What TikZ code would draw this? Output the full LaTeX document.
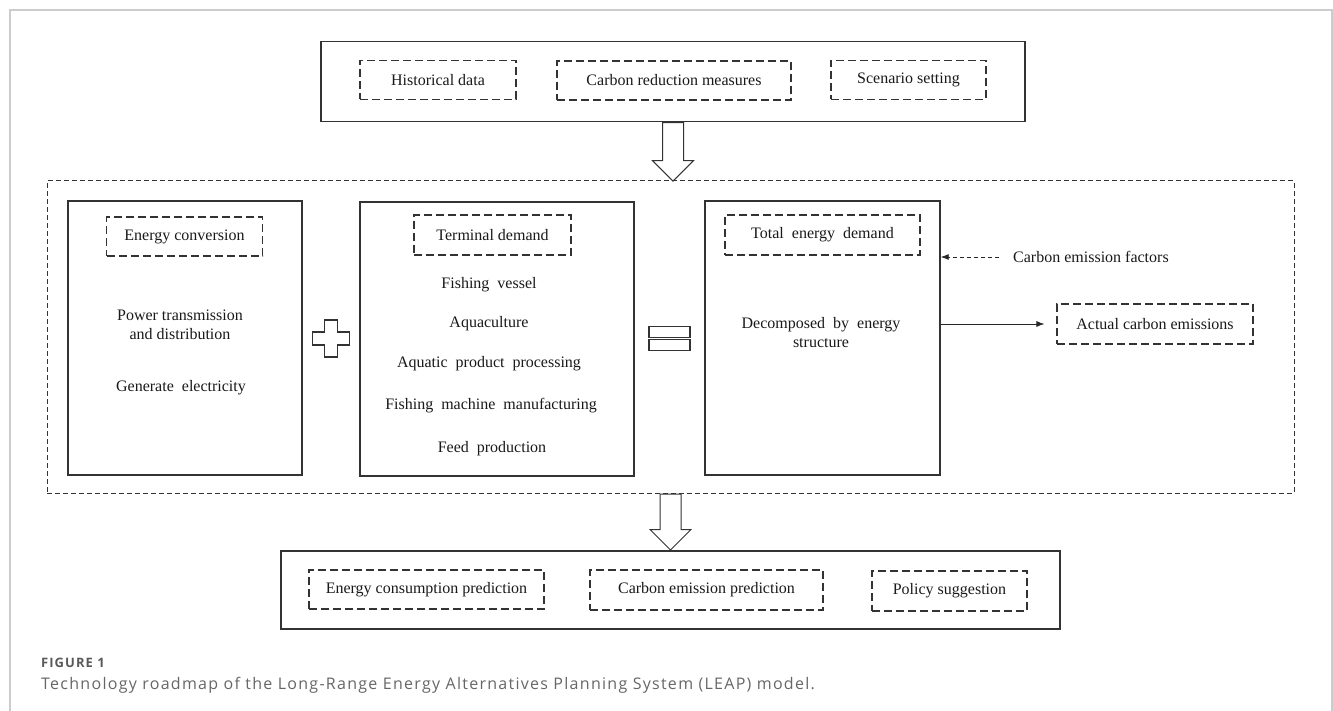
\documentclass[tikz,border=0pt]{standalone}
\usepackage{fontspec}
\setmainfont{Liberation Serif}
\newfontfamily\capfont[LetterSpace=8]{Open Sans}
\usetikzlibrary{arrows.meta,positioning,calc,shapes.arrows}

\begin{document}
\begin{tikzpicture}[x=1pt, y=-1pt,
    every node/.style={font=\fontsize{16}{19}\selectfont, text=black!90},
    box/.style={draw=black!80, line width=1.4pt, inner sep=0pt},
    dbox/.style={draw=black!80, line width=1.2pt, dash pattern=on 8pt off 4pt,
                 inner sep=0pt, minimum height=39pt},
    loopline/.style={draw=black!80, line width=1pt, dash pattern=on 5pt off 3pt},
    item/.style={align=center, inner sep=0pt},
    bigarr/.style={single arrow, draw=black!80, line width=1pt, fill=white,
                   shape border rotate=270, inner sep=10pt,
                   single arrow head extend=10pt, single arrow tip angle=90,
                   minimum height=#1, anchor=tail},
    arr/.style={-{Latex[length=8pt,width=6pt]}, line width=0.8pt, draw=black!85},
    sign/.style={draw=black!80, line width=1.2pt, fill=white},
    captext/.style={text=black!60, anchor=base west, inner sep=0pt},
]
\useasboundingbox (0,0) rectangle (1333,711);
% --- page frame ---------------------------------------------------
\draw[black!20, line width=2pt] (10,711) -- (10,10) -- (1332,10) -- (1332,711);

% --- input block ----------------------------------------------------
\node[box, minimum width=704pt, minimum height=80pt] (inbox) at (673,81.5) {};
\node[dbox, minimum width=156pt] (hist)  at (438,80)   {Historical data};
\node[dbox, minimum width=234pt] (meas)  at (674,80.5) {Carbon reduction measures};
\node[dbox, minimum width=155pt] (scen)  at (908.5,80) {Scenario setting};

% --- LEAP calculation block (dashed) ---------------------------------
\node[loopline, minimum width=1247pt, minimum height=312pt, inner sep=0pt] (leap) at (670.5,337) {};

% energy conversion
\node[box, minimum width=234pt, minimum height=274pt] (conv) at (185,338) {};
\node[dbox, minimum width=156pt] (convt) at (184.5,236.5) {Energy conversion};
\node[item] (ptd)  at (180,325) {Power transmission\\and distribution};
\node[item] (gen)  at (181,388) {Generate\ \ electricity};

% terminal demand
\node[box, minimum width=274pt, minimum height=274pt] (term) at (497,339) {};
\node[dbox, minimum width=157pt, minimum height=40pt] (termt) at (492.5,235) {Terminal demand};
\node[item] (fv)   at (489,285) {Fishing\ \ vessel};
\node[item] (aq)   at (489,324) {Aquaculture};
\node[item] (app)  at (489,364) {Aquatic\ \ product\ \ processing};
\node[item] (fmm)  at (491,406) {Fishing\ \ machine\ \ manufacturing};
\node[item] (feed) at (492,449) {Feed\ \ production};

% total demand
\node[box, minimum width=235pt, minimum height=274pt] (tot) at (822.5,338) {};
\node[dbox, minimum width=195pt, minimum height=40pt] (tott) at (822.5,235) {Total\ \ energy\ \ demand};
\node[item] (dec)  at (821,333) {Decomposed\ \ by\ \ energy\\structure};

\node[anchor=west, inner xsep=14pt, inner ysep=0pt] (cef) at (999,257) {Carbon emission factors};
\node[dbox, minimum width=196pt, minimum height=40pt] (act) at (1155,324) {Actual carbon emissions};

% --- plus / equals signs ----------------------------------------------
\coordinate (plus) at ($(conv.east)!0.5!(term.west)$);
\draw[sign] (plus) ++(-6.5,-18.5) -- ++(13,0) -- ++(0,12) -- ++(12,0) -- ++(0,13)
  -- ++(-12,0) -- ++(0,12) -- ++(-13,0) -- ++(0,-12) -- ++(-12,0) -- ++(0,-13)
  -- ++(12,0) -- cycle;
\coordinate (equal) at ($(term.east)!0.5!(tot.west)$);
\draw[sign] (equal) ++(-20.5,-12) rectangle ++(41,11);
\draw[sign] (equal) ++(-20.5,1) rectangle ++(41,11);

% --- connectors -----------------------------------------------------
\draw[arr, dash pattern=on 4pt off 3pt] (cef.west) -- (cef.west -| tot.east);
\draw[arr, shorten >=12pt] (tot.east |- act.west) -- (act.west);

% --- output block ---------------------------------------------------
\node[box, minimum width=779pt, minimum height=78pt] (outbox) at (670.5,590) {};
\node[dbox, minimum width=235pt] (ecp) at (426.5,589.5) {Energy consumption prediction};
\node[dbox, minimum width=233pt, minimum height=40pt] (cep) at (706.5,590) {\raisebox{-3pt}{Carbon emission prediction}};
\node[dbox, minimum width=155pt, minimum height=40pt] (pol) at (949.5,591) {Policy suggestion};

% --- block arrows between stages ------------------------------------
\node[bigarr=58.5pt] (a1) at (inbox.south) {};
\node[bigarr=56pt] (a2) at (leap.south -| outbox.north) {};

% --- caption --------------------------------------------------------
\node[captext, font=\capfont\fontsize{13}{15}\selectfont\bfseries, text=black!65] (fig) at (41,667) {FIGURE 1};
\node[captext, font=\capfont\fontsize{16}{18}\selectfont] (cap) at (41,689)
  {Technology roadmap of the Long-Range Energy Alternatives Planning System (LEAP) model.};
\end{tikzpicture}
\end{document}
